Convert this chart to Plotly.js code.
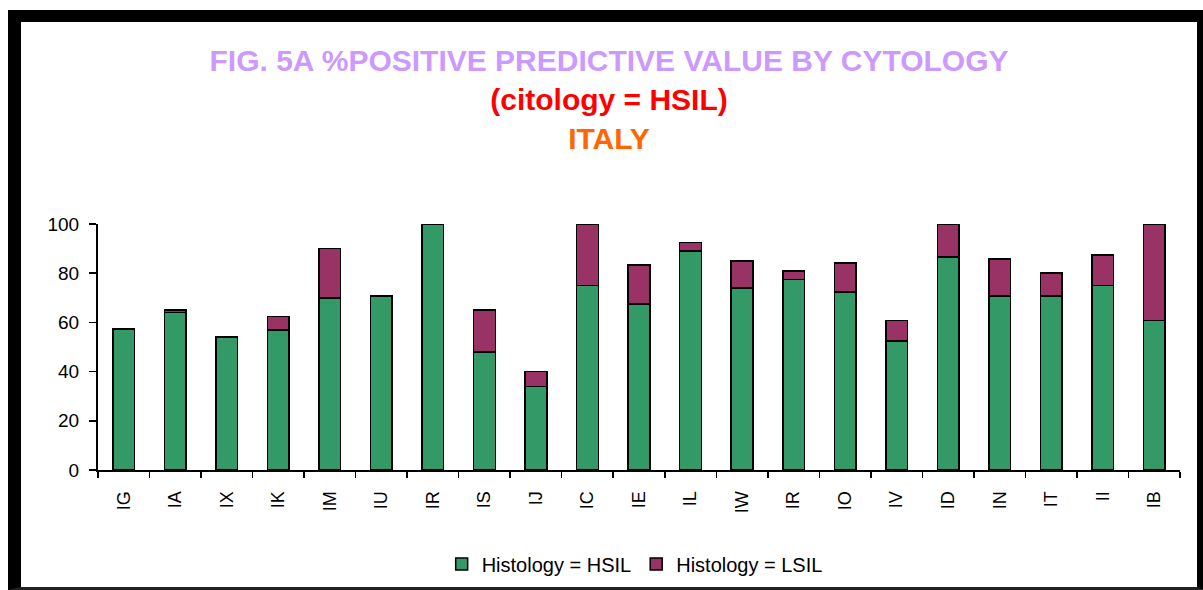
<!DOCTYPE html>
<html>
<head>
<meta charset="utf-8">
<script src="https://cdn.plot.ly/plotly-3.0.1.min.js"></script>
<style>
    body { margin: 0; background: #fff; }
    /* black frame around the chart like the original screenshot */
    #frame {
        position: absolute;
        left: 8px;
        top: 10px;
        border-top: 12px solid #000;
        border-left: 13px solid #000;
        border-right: 8px solid #000;
        border-bottom: 3px solid #222;
        background: #fff;
    }
    #chart { width: 1176px; height: 565px; }
</style>
</head>
<body>
<div id="frame"><div id="chart"></div></div>
<script>
// Sites on the x axis (IR appears twice in the source chart)
var sites = ['IG', 'IA', 'IX', 'IK', 'IM', 'IU', 'IR', 'IS', 'IJ', 'IC', 'IE',
             'IL', 'IW', 'IR', 'IO', 'IV', 'ID', 'IN', 'IT', 'II', 'IB'];

// % positive predictive value, histology = HSIL
var hsil = [57.4, 64, 54, 57, 70, 70.7, 100, 48, 34, 75, 67.4,
            89, 74, 77.5, 72.3, 52.4, 86.6, 70.7, 70.7, 75, 60.8];

// % positive predictive value, histology = LSIL (stacked on top)
var lsil = [0, 1, 0, 5.4, 20, 0, 0, 17, 6, 25, 16,
            3.5, 11, 3.4, 11.8, 8.4, 13.4, 15, 9.3, 12.5, 39.2];

var seriesNames = ['Histology = HSIL', 'Histology = LSIL'];
var seriesColors = ['#339966', '#993366'];

var font = '"Liberation Sans", Arial, sans-serif';
var idx = sites.map(function(s, i) { return i; });

function makeTrace(values, k) {
    return {
        x: idx,
        y: values,
        name: seriesNames[k],
        type: 'bar',
        marker: {
            color: seriesColors[k],
            line: { color: '#000', width: 1.5 }
        },
        hoverinfo: 'skip'
    };
}

var data = [makeTrace(hsil, 0), makeTrace(lsil, 1)];

var layout = {
    width: 1176,
    height: 565,
    barmode: 'stack',
    bargap: 0.58,
    paper_bgcolor: '#fff',
    plot_bgcolor: '#fff',
    margin: { l: 77, r: 17, t: 202, b: 117, autoexpand: false },
    font: { family: font, color: '#000' },
    title: {
        text: '<b><span style="color:#cc99ff">FIG. 5A %POSITIVE PREDICTIVE VALUE BY CYTOLOGY</span><br>' +
              '<span style="color:#ff0000">(citology = HSIL)</span><br>' +
              '<span style="color:#ff6600">ITALY</span></b>',
        font: { family: font, size: 30 },
        x: 0.5,
        xanchor: 'center',
        xref: 'container',
        y: 0.914,
        yanchor: 'top',
        yref: 'container'
    },
    xaxis: {
        type: 'category',
        tickmode: 'array',
        tickvals: idx,
        ticktext: sites,
        tickangle: -90,
        tickson: 'boundaries',
        ticks: 'outside',
        ticklen: 6,
        tickwidth: 1.5,
        tickcolor: '#000',
        ticklabelstandoff: 12,
        showline: true,
        linecolor: '#000',
        linewidth: 2,
        showgrid: false,
        zeroline: false,
        tickfont: { family: font, size: 18, color: '#000' },
        fixedrange: true
    },
    yaxis: {
        range: [0, 100],
        dtick: 20,
        ticks: 'outside',
        ticklen: 7,
        tickwidth: 1.5,
        tickcolor: '#000',
        ticklabelstandoff: 6,
        showline: true,
        linecolor: '#000',
        linewidth: 2,
        showgrid: false,
        zeroline: false,
        tickfont: { family: font, size: 19, color: '#000' },
        fixedrange: true
    },
    legend: {
        orientation: 'h',
        x: 0.496,
        xanchor: 'center',
        y: -0.382,
        yanchor: 'middle',
        font: { family: font, size: 20, color: '#000' },
        traceorder: 'normal'
    },
    showlegend: true
};

Plotly.newPlot('chart', data, layout, { displayModeBar: false, staticPlot: true });
</script>
</body>
</html>
